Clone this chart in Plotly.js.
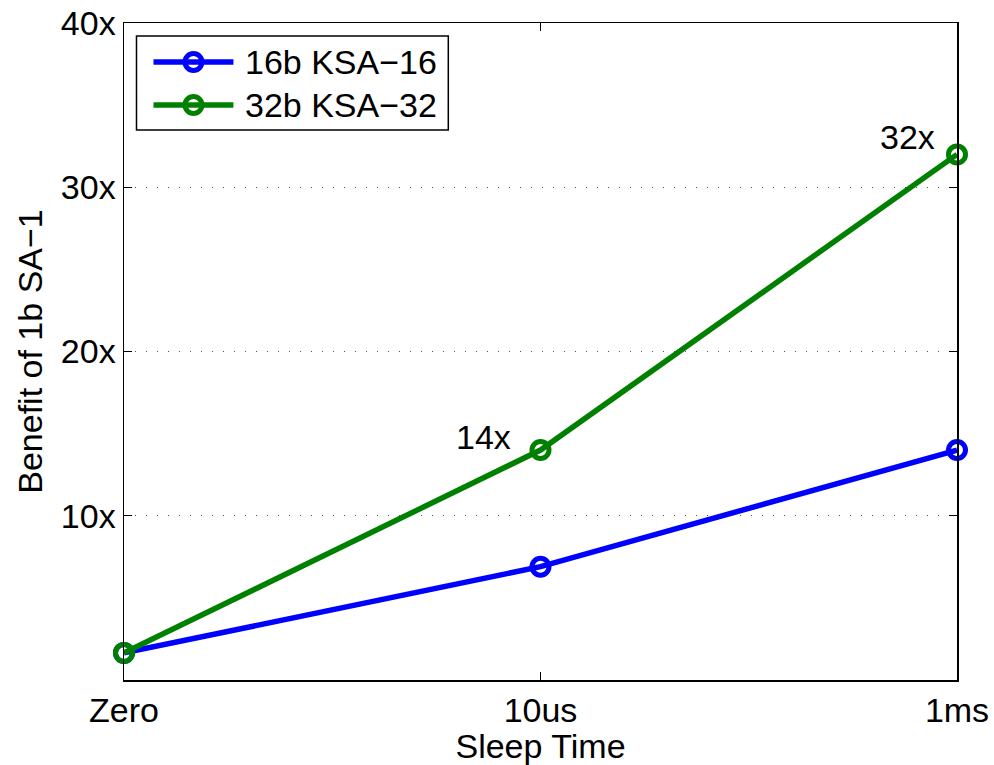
<!DOCTYPE html>
<html>
<head>
<meta charset="utf-8">
<script src="https://cdn.plot.ly/plotly-3.0.1.min.js"></script>
<style>
  html, body { margin: 0; padding: 0; background: #fff; }
  #chart { width: 994px; height: 765px; }
</style>
</head>
<body>
<div id="chart"></div>
<script>
// Sleep-time categories along the x axis
const sleepTimes = ['Zero', '10us', '1ms'];

// Benefit of 1b SA-1 over each KSA configuration
const ksa16 = [1.65, 6.9, 14];
const ksa32 = [1.65, 14, 32];

// Series names and colours
const seriesNames = ['16b KSA\u221216', '32b KSA\u221232'];
const seriesColors = ['#0000ff', '#008000'];

// Y tick positions and their labels
const yTickVals = [10, 20, 30, 40];
const yTickText = ['10x', '20x', '30x', '40x'];

// Value callouts on the 32b series
const calloutIdx = [1, 2];

const FONT = 'Liberation Sans, Arial, Helvetica, sans-serif';
const FS = 34;

// Plot-area geometry in pixels (used for the boxed legend)
const W = 994, H = 765;
const M = { l: 123.5, r: 37, t: 23, b: 85 };
const plotW = W - M.l - M.r, plotH = H - M.t - M.b;
const px = v => (v - M.l) / plotW;
const py = v => (H - M.b - v) / plotH;

function lineTrace(name, y, color) {
  return {
    type: 'scatter',
    mode: 'lines+markers',
    name: name,
    x: sleepTimes,
    y: y,
    line: { color: color, width: 5.5 },
    marker: {
      symbol: 'circle-open',
      size: 17,
      color: color,
      line: { color: color, width: 5 }
    },
    cliponaxis: false,
    showlegend: false
  };
}

const traces = [
  lineTrace(seriesNames[0], ksa16, seriesColors[0]),
  lineTrace(seriesNames[1], ksa32, seriesColors[1])
];

const annotations = [
  { idx: calloutIdx[0], xshift: -57, yshift: 13 },
  { idx: calloutIdx[1], xshift: -50, yshift: 17 }
].map(a => ({
  x: sleepTimes[a.idx],
  y: ksa32[a.idx],
  xref: 'x',
  yref: 'y',
  text: ksa32[a.idx] + 'x',
  showarrow: false,
  xshift: a.xshift,
  yshift: a.yshift,
  font: { family: FONT, size: FS, color: '#000' }
}));

// Boxed legend in the upper-left corner
const shapes = [{
  type: 'rect', xref: 'paper', yref: 'paper',
  x0: px(136), x1: px(448), y0: py(130), y1: py(36),
  line: { color: '#000', width: 1.5 }, fillcolor: '#fff', layer: 'above'
}];
const rowY = [62, 105];
seriesNames.forEach((name, i) => {
  const c = seriesColors[i];
  shapes.push({
    type: 'line', xref: 'paper', yref: 'paper',
    x0: px(153), x1: px(233), y0: py(rowY[i]), y1: py(rowY[i]),
    line: { color: c, width: 5.5 }, layer: 'above'
  });
  shapes.push({
    type: 'circle', xref: 'paper', yref: 'paper',
    xsizemode: 'pixel', ysizemode: 'pixel',
    xanchor: px(193), yanchor: py(rowY[i]),
    x0: -8.5, x1: 8.5, y0: -8.5, y1: 8.5,
    line: { color: c, width: 5 }, fillcolor: 'rgba(0,0,0,0)', layer: 'above'
  });
  annotations.push({
    xref: 'paper', yref: 'paper',
    x: px(243), y: py(rowY[i]),
    xanchor: 'left', yanchor: 'middle',
    text: name, showarrow: false,
    font: { family: FONT, size: FS, color: '#000' }
  });
});

const layout = {
  width: W,
  height: H,
  margin: M,
  paper_bgcolor: '#fff',
  plot_bgcolor: '#fff',
  font: { family: FONT, size: FS, color: '#000' },
  showlegend: false,
  xaxis: {
    type: 'category',
    range: [0, 2],
    showline: true,
    linecolor: '#000',
    linewidth: 1.5,
    mirror: 'ticks',
    ticks: 'inside',
    ticklen: 8,
    tickcolor: '#000',
    tickwidth: 1,
    showgrid: false,
    zeroline: false,
    tickfont: { family: FONT, size: FS, color: '#000' },
    title: { text: 'Sleep Time', font: { family: FONT, size: FS, color: '#000' }, standoff: 2 }
  },
  yaxis: {
    range: [0, 40],
    tickvals: yTickVals,
    ticktext: yTickText,
    showline: true,
    linecolor: '#000',
    linewidth: 1.5,
    mirror: 'ticks',
    ticks: 'inside',
    ticklen: 8,
    tickcolor: '#000',
    tickwidth: 1,
    showgrid: true,
    gridcolor: '#555',
    gridwidth: 1,
    griddash: '1px,10px',
    zeroline: false,
    tickfont: { family: FONT, size: FS, color: '#000' },
    title: { text: 'Benefit of 1b SA\u22121', font: { family: FONT, size: FS, color: '#000' }, standoff: 8 }
  },
  shapes: shapes,
  annotations: annotations
};

Plotly.newPlot('chart', traces, layout, { displayModeBar: false, staticPlot: true });
</script>
</body>
</html>
